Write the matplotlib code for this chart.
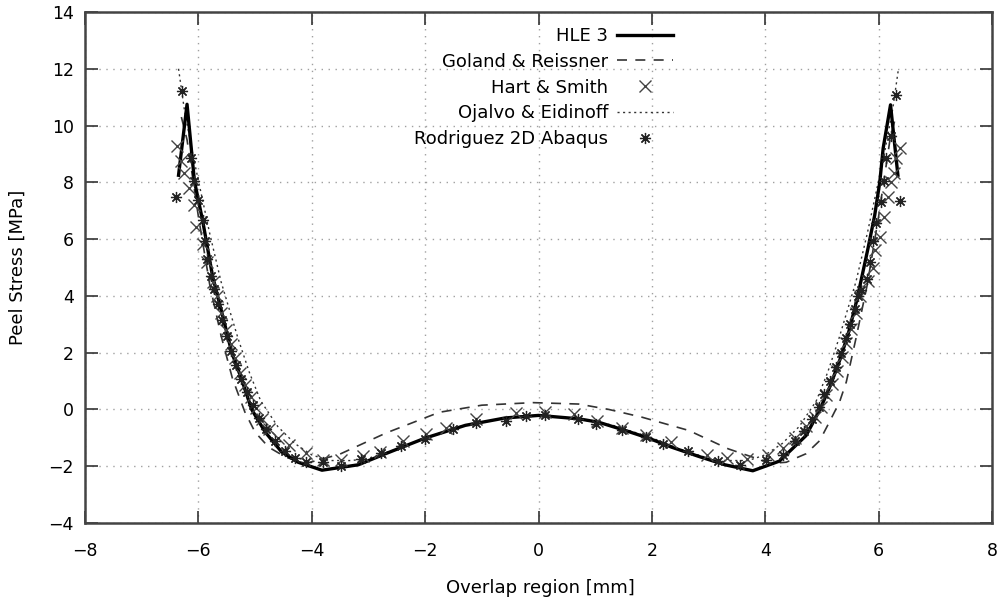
import matplotlib
matplotlib.use("Agg")
import matplotlib.pyplot as plt

# HLE 3 (solid)
hle_x = [-6.35, -6.20, -6.07, -5.92, -5.75, -5.59, -5.41, -5.24, -5.06, -4.82, -4.53, -4.24, -3.82,
         -3.18, -2.70, -2.00, -1.29, -0.59, 0.00, 0.71, 1.06, 1.53, 1.94, 2.35, 2.82, 3.29, 3.78,
         4.25, 4.72, 4.97, 5.15, 5.32, 5.47, 5.62, 5.81, 5.93, 6.02, 6.08, 6.21, 6.34]
hle_y = [8.25, 10.75, 8.05, 6.60, 4.70, 3.44, 2.00, 1.08, 0.00, -0.80, -1.50, -1.86, -2.14,
         -1.95, -1.56, -1.01, -0.56, -0.30, -0.21, -0.33, -0.45, -0.74, -1.01, -1.33, -1.65, -1.95, -2.16,
         -1.82, -0.92, 0.02, 0.85, 1.77, 2.71, 3.89, 5.65, 6.83, 8.00, 9.20, 10.73, 8.25]

# Goland & Reissner (dashed)
gr_x = [-6.30, -6.20, -6.00, -5.80, -5.60, -5.40, -5.18, -5.00, -4.76, -4.45, -4.10, -3.51, -2.69,
        -1.75, -1.00, -0.10, 0.71, 1.24, 1.82, 2.65, 3.35, 4.10, 4.37, 4.72, 4.96, 5.13, 5.31,
        5.43, 5.60, 5.80, 6.00, 6.20, 6.30]
gr_y = [10.3, 9.5, 6.8, 4.4, 2.6, 1.1, -0.09, -0.80, -1.33, -1.69, -1.90, -1.58, -0.83,
        -0.10, 0.15, 0.24, 0.19, 0.00, -0.27, -0.74, -1.39, -1.90, -1.86, -1.56, -1.10, -0.45, 0.26,
        0.97, 2.5, 4.4, 6.8, 9.5, 10.3]

# Ojalvo & Eidinoff (dotted)
oe_x = [-6.35, -6.25, -6.10, -5.95, -5.80, -5.60, -5.45, -5.30, -5.10, -4.90, -4.60, -4.30, -4.00,
        -3.70, -3.30, -3.00, -2.50, -2.00, -1.30, -0.60, 0.00, 0.60, 1.30, 2.00, 2.50, 3.00, 3.30,
        3.70, 4.00, 4.30, 4.60, 4.90, 5.10, 5.30, 5.45, 5.60, 5.80, 5.95, 6.10, 6.25, 6.35]
oe_y = [12.0, 10.6, 9.0, 7.6, 6.2, 4.5, 3.5, 2.5, 1.3, 0.3, -0.6, -1.2, -1.6,
        -1.8, -1.8, -1.72, -1.4, -1.0, -0.55, -0.3, -0.22, -0.3, -0.55, -1.0, -1.4, -1.72, -1.8,
        -1.8, -1.6, -1.2, -0.6, 0.3, 1.3, 2.5, 3.5, 4.5, 6.2, 7.6, 9.0, 10.6, 12.0]

# Hart & Smith (x markers)
hs_x = [-6.38, -6.31, -6.25, -6.16, -6.07, -6.04, -5.92, -5.84, -5.75,
        -5.68, -5.60, -5.52, -5.43, -5.35, -5.26, -5.17, -5.08, -4.98, -4.87, -4.75, -4.60, -4.40, -4.10,
        -3.80, -3.48, -3.10, -2.80, -2.39, -1.99, -1.64, -1.11, -0.40, 0.12, 0.62, 1.03, 1.47, 1.89,
        2.33, 2.97, 3.32, 3.68, 4.05, 4.31, 4.52,
        4.72, 4.87, 4.98, 5.08, 5.17, 5.26, 5.35, 5.43, 5.52, 5.60, 5.68,
        5.81, 5.90, 5.93, 6.02, 6.10, 6.16, 6.22, 6.28, 6.31, 6.37]
hs_y = [9.28, 8.75, 8.33, 7.80, 7.20, 6.44, 5.84, 5.19, 4.48,
        4.00, 3.40, 2.80, 2.30, 1.80, 1.30, 0.85, 0.45, 0.05, -0.35, -0.70, -1.00, -1.24, -1.53,
        -1.77, -1.77, -1.65, -1.51, -1.12, -0.88, -0.65, -0.35, -0.12, -0.09, -0.15, -0.39, -0.66, -0.90,
        -1.14, -1.62, -1.70, -1.76, -1.62, -1.35, -1.00,
        -0.60, -0.25, 0.10, 0.50, 0.90, 1.35, 1.85, 2.35, 2.85, 3.40, 4.00,
        4.54, 5.00, 5.60, 6.06, 6.77, 7.47, 8.00, 8.32, 8.84, 9.22]

# Rodriguez 2D Abaqus (asterisks)
ro_x = [-6.39, -6.29, -6.13, -6.07, -6.01, -5.92, -5.89, -5.84, -5.78, -5.72,
        -5.66, -5.58, -5.50, -5.42, -5.33, -5.24, -5.14, -5.04, -4.93, -4.80, -4.65, -4.48, -4.30, -4.10,
        -3.80, -3.48, -3.13, -2.78, -2.42, -2.01, -1.51, -1.10, -0.57, -0.22, 0.12, 0.69, 1.01, 1.47,
        1.89, 2.19, 2.63, 3.16, 3.55, 4.02, 4.31, 4.52,
        4.68, 4.82, 4.94, 5.04, 5.14, 5.24, 5.33, 5.42, 5.50, 5.58, 5.64,
        5.69, 5.79, 5.84, 5.90, 5.96, 6.04, 6.10, 6.13, 6.22, 6.30, 6.38]
ro_y = [7.47, 11.20, 8.84, 8.04, 7.37, 6.66, 5.92, 5.30, 4.70, 4.24,
        3.70, 3.15, 2.60, 2.05, 1.55, 1.08, 0.60, 0.15, -0.30, -0.70, -1.10, -1.45, -1.70, -1.85,
        -1.86, -1.98, -1.74, -1.55, -1.29, -1.05, -0.70, -0.47, -0.41, -0.24, -0.21, -0.35, -0.53, -0.71,
        -0.96, -1.23, -1.47, -1.83, -1.94, -1.77, -1.59, -1.12,
        -0.75, -0.35, 0.10, 0.55, 1.00, 1.50, 2.00, 2.50, 3.00, 3.55, 4.00,
        4.19, 4.60, 5.19, 5.92, 6.57, 7.30, 8.04, 8.84, 9.63, 11.07, 7.33]

x_ticks = [-8, -6, -4, -2, 0, 2, 4, 6, 8]
y_ticks = [-4, -2, 0, 2, 4, 6, 8, 10, 12, 14]

W, H = 1006, 608
plt.rcParams['font.family'] = ['DejaVu Sans']
fig = plt.figure(figsize=(W / 100, H / 100), dpi=100)
ax = fig.add_axes([85 / W, 1 - 523 / H, 907 / W, 511 / H])

ax.plot(hle_x, hle_y, color='black', lw=2.4, label='HLE 3', zorder=5)
ax.plot(gr_x, gr_y, color='#333333', lw=1.2, dashes=(6, 5), label='Goland & Reissner', zorder=4)
ax.plot(hs_x, hs_y, ls='none', marker='x', ms=8, mew=1.0, color='#444444', label='Hart & Smith', zorder=6)
ax.plot(oe_x, oe_y, color='#333333', lw=1.0, dashes=(1.5, 2.5), label='Ojalvo & Eidinoff', zorder=4)
ax.plot(ro_x, ro_y, ls='none', marker=(8, 2, 0), ms=8, mew=0.9, color='#222222',
        label='Rodriguez 2D Abaqus', zorder=7)

ax.set_xlim(-8, 8)
ax.set_ylim(-4, 14)
ax.set_xticks(x_ticks)
ax.set_yticks(y_ticks)
ax.grid(True, color='#a0a0a0', ls=(0, (1, 4)), lw=1.0)
ax.tick_params(direction='in', length=9, width=1.2, top=True, right=True,
               labelsize=12.5, colors='#333333', labelcolor='black')
ax.tick_params(axis='x', pad=14)
ax.tick_params(axis='y', pad=8)
for sp in ax.spines.values():
    sp.set_color('#444444')
    sp.set_linewidth(1.8)

ax.set_xlabel('Overlap region [mm]', fontsize=13)
ax.set_ylabel('Peel Stress [MPa]', fontsize=13)
ax.xaxis.set_label_coords(540 / W, 1 - 579 / H, transform=fig.transFigure)
ax.yaxis.set_label_coords(27 / W, 1 - 267.5 / H, transform=fig.transFigure)

leg = ax.legend(loc='upper right', bbox_to_anchor=(673 / W, 1 - 27 / H), bbox_transform=fig.transFigure,
                frameon=False, markerfirst=False, fontsize=13, handlelength=3.1,
                handletextpad=0.5, labelspacing=0.43, borderaxespad=0, borderpad=0)
for t in leg.get_texts():
    t.set_ha('right')
leg._legend_box.align = 'right'

fig.savefig('out.png', dpi=100)
